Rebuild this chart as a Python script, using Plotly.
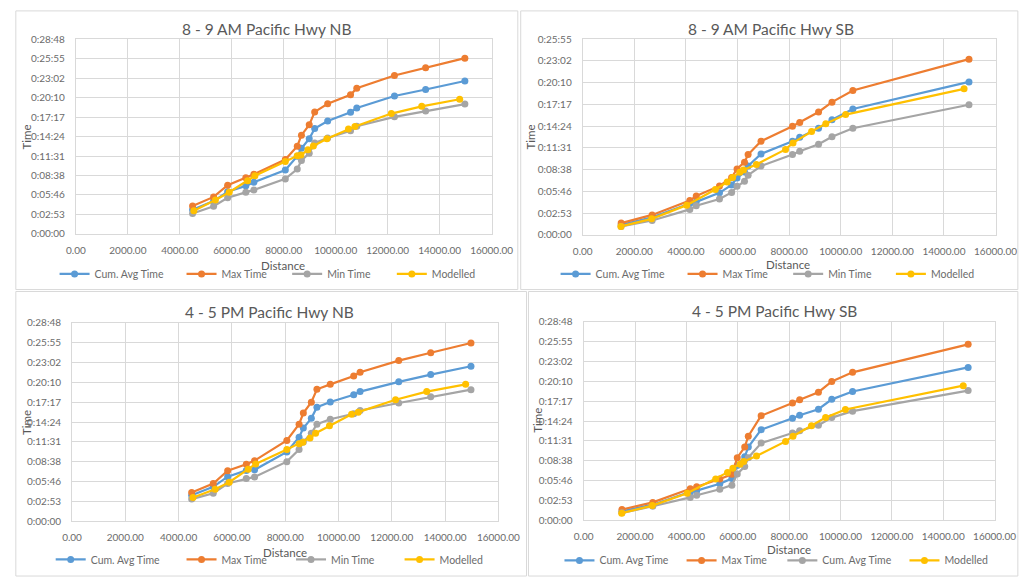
import plotly.graph_objects as go

W, H = 1035, 583

# Distances (m) of the timing points along Pacific Hwy
nb_dist = [4490, 5300, 5840, 6540, 6850, 8060, 8520, 8680, 8980, 9190, 9690, 10570, 10810, 12260, 13460, 14970]
nb_model_dist = [4540, 5370, 5900, 6610, 6890, 8060, 8520, 8660, 8930, 9140, 9660, 10490, 10740, 12140, 13310, 14770]
sb_dist = [1490, 2690, 4150, 4400, 5300, 5770, 5980, 6270, 6410, 6910, 8130, 8410, 9140, 9660, 10470, 14970]
sb_model_dist = [1480, 2670, 4030, 5140, 5600, 5810, 6090, 6230, 6730, 7860, 8150, 8870, 9420, 10190, 14780]

# Cumulative travel times in seconds
am_nb_avg = [213, 291, 374, 426, 458, 567, 690, 760, 844, 936, 1002, 1080, 1117, 1224, 1282, 1357]
am_nb_max = [248, 328, 432, 498, 530, 660, 778, 876, 968, 1083, 1155, 1235, 1294, 1406, 1476, 1560]
am_nb_min = [180, 245, 320, 369, 390, 488, 575, 652, 715, 807, 851, 915, 955, 1039, 1091, 1152]
am_nb_model = [204, 300, 369, 472, 516, 642, 694, 700, 746, 780, 844, 930, 953, 1068, 1132, 1195]

am_sb_avg = [80, 140, 249, 262, 334, 397, 451, 500, 547, 643, 744, 775, 848, 915, 1001, 1216]
am_sb_max = [93, 158, 272, 308, 389, 455, 524, 578, 638, 744, 863, 894, 977, 1055, 1148, 1397]
am_sb_min = [67, 114, 202, 231, 285, 337, 386, 425, 474, 547, 638, 664, 721, 780, 848, 1034]
am_sb_model = [67, 127, 236, 360, 420, 456, 498, 516, 560, 679, 731, 822, 884, 956, 1161]

pm_nb_avg = [227, 300, 388, 443, 448, 604, 732, 811, 896, 993, 1038, 1101, 1129, 1214, 1277, 1350]
pm_nb_max = [250, 329, 440, 496, 528, 704, 845, 942, 1036, 1149, 1192, 1265, 1297, 1399, 1467, 1552]
pm_nb_min = [193, 244, 329, 372, 386, 519, 624, 690, 766, 845, 888, 936, 965, 1030, 1084, 1146]
pm_nb_model = [207, 278, 340, 454, 499, 624, 675, 689, 726, 766, 831, 931, 950, 1058, 1129, 1192]

pm_sb_avg = [79, 136, 247, 258, 318, 363, 477, 553, 638, 789, 888, 914, 967, 1053, 1121, 1331]
pm_sb_max = [94, 156, 275, 292, 360, 400, 545, 638, 732, 911, 1021, 1050, 1115, 1209, 1288, 1532]
pm_sb_min = [65, 122, 199, 218, 270, 306, 403, 468, 545, 672, 760, 780, 828, 894, 950, 1129]
pm_sb_model = [62, 128, 235, 360, 417, 454, 488, 511, 559, 687, 732, 823, 894, 965, 1172]

time_ticks = [0, 172.8, 345.6, 518.4, 691.2, 864, 1036.8, 1209.6, 1382.4, 1555.2, 1728]
time_labels = ["0:00:00", "0:02:53", "0:05:46", "0:08:38", "0:11:31", "0:14:24",
               "0:17:17", "0:20:10", "0:23:02", "0:25:55", "0:28:48"]

titles = ["8 - 9 AM Pacific Hwy NB", "8 - 9 AM Pacific Hwy SB",
          "4 - 5 PM Pacific Hwy NB", "4 - 5 PM Pacific Hwy SB"]
names_std = ["Cum. Avg Time", "Max Time", "Min Time", "Modelled"]
names_pm_sb = ["Cum. Avg Time", "Max Time", "Cum. Avg Time", "Modelled"]

colors = ["#5B9BD5", "#ED7D31", "#A5A5A5", "#FFC000"]
TXT = "#595959"
TICK = "#6b6b6b"
GRID = "#D9D9D9"
FONT = "Lato, 'Open Sans', sans-serif"

def px(x):
    return x / W

def py(y):
    return 1 - y / H

panels = [
    dict(title=titles[0], names=names_std, dist=nb_dist, mdist=nb_model_dist,
         series=[am_nb_avg, am_nb_max, am_nb_min, am_nb_model], ymax=1728,
         plot=(68, 497, 33, 232), title_xy=(265, 22), ytitle_xy=(17, 133), xtitle_xy=(282, 264),
         legend_y=273, legend_tx=[86, 217, 326, 434]),
    dict(title=titles[1], names=names_std, dist=sb_dist, mdist=sb_model_dist,
         series=[am_sb_avg, am_sb_max, am_sb_min, am_sb_model], ymax=1555.2,
         plot=(591, 1017, 33, 233), title_xy=(785, 22), ytitle_xy=(537, 133), xtitle_xy=(803, 263),
         legend_y=273, legend_tx=[603, 734, 843, 949]),
    dict(title=titles[2], names=names_std, dist=nb_dist, mdist=nb_model_dist,
         series=[pm_nb_avg, pm_nb_max, pm_nb_min, pm_nb_model], ymax=1728,
         plot=(64, 504, 323, 526), title_xy=(268, 312), ytitle_xy=(17, 425), xtitle_xy=(284, 558),
         legend_y=565, legend_tx=[82, 217, 330, 442]),
    dict(title=titles[3], names=names_pm_sb, dist=sb_dist, mdist=sb_model_dist,
         series=[pm_sb_avg, pm_sb_max, pm_sb_min, pm_sb_model], ymax=1728,
         plot=(592, 1016, 322, 525), title_xy=(789, 311), ytitle_xy=(544, 423), xtitle_xy=(804, 555),
         legend_y=566, legend_tx=[607, 733, 837, 963]),
]

fig = go.Figure()
layout = dict(width=W, height=H, margin=dict(l=0, r=0, t=0, b=0),
              paper_bgcolor="white", plot_bgcolor="white", showlegend=True,
              font=dict(family=FONT, color=TXT))
annotations = []
shapes = []

# Chart frames
frames = [(6, 4, 524, 289), (527, 4, 1040, 289), (6, 291, 533, 582), (535, 291, 1040, 582)]
for x0, y0, x1, y1 in frames:
    shapes.append(dict(type="rect", xref="paper", yref="paper",
                       x0=px(x0), x1=px(x1), y0=py(y1), y1=py(y0),
                       line=dict(color=GRID, width=1), fillcolor="rgba(0,0,0,0)"))

leg_n = 0
for i, p in enumerate(panels):
    k = "" if i == 0 else str(i + 1)
    xa, ya = "x" + k, "y" + k
    l, r, t, b = p["plot"]
    yticks = [v for v in time_ticks if v <= p["ymax"] + 0.01]
    ylabels = time_labels[:len(yticks)]
    layout["xaxis" + k] = dict(domain=[px(l), px(r)], anchor=ya, range=[0, 16000],
                               tickmode="linear", tick0=0, dtick=2000, tickformat=".2f",
                               showgrid=True, gridcolor=GRID, gridwidth=1,
                               showline=True, linecolor=GRID, mirror=True, zeroline=False,
                               ticks="", ticklabelstandoff=7,
                               tickfont=dict(size=10, color=TICK, family=FONT))
    layout["yaxis" + k] = dict(domain=[py(b), py(t)], anchor=xa, range=[0, p["ymax"]],
                               tickmode="array", tickvals=yticks, ticktext=ylabels,
                               showgrid=True, gridcolor=GRID, gridwidth=1,
                               showline=True, linecolor=GRID, mirror=True, zeroline=False,
                               ticks="", ticklabelstandoff=8,
                               tickfont=dict(size=10, color=TICK, family=FONT))
    for j, vals in enumerate(p["series"]):
        leg_n += 1
        lid = "legend" if leg_n == 1 else "legend%d" % leg_n
        xs = p["mdist"] if j == 3 else p["dist"]
        fig.add_trace(go.Scatter(x=xs, y=vals, mode="lines+markers", name=p["names"][j],
                                 xaxis=xa, yaxis=ya, legend=lid,
                                 line=dict(color=colors[j], width=2.2),
                                 marker=dict(color=colors[j], size=7, symbol="circle")))
        layout[lid] = dict(x=px(p["legend_tx"][j] - 40), xanchor="left",
                           y=py(p["legend_y"]), yanchor="middle",
                           bgcolor="rgba(0,0,0,0)", borderwidth=0,
                           font=dict(size=10.5, color=TICK, family=FONT), itemwidth=30)
    tx, ty = p["title_xy"]
    annotations.append(dict(text=p["title"], x=px(tx), y=py(ty), xref="paper", yref="paper",
                            showarrow=False, xanchor="center", yanchor="middle",
                            font=dict(size=15.5, color=TXT, family=FONT)))
    ax_, ay_ = p["ytitle_xy"]
    annotations.append(dict(text="Time", x=px(ax_), y=py(ay_), xref="paper", yref="paper",
                            showarrow=False, textangle=-90, xanchor="center", yanchor="middle",
                            font=dict(size=11.5, color=TXT, family=FONT)))
    dx_, dy_ = p["xtitle_xy"]
    annotations.append(dict(text="Distance", x=px(dx_), y=py(dy_), xref="paper", yref="paper",
                            showarrow=False, xanchor="center", yanchor="middle",
                            font=dict(size=11.5, color=TXT, family=FONT)))

layout["annotations"] = annotations
layout["shapes"] = shapes
fig.update_layout(**layout)
fig.write_html("out.html")
